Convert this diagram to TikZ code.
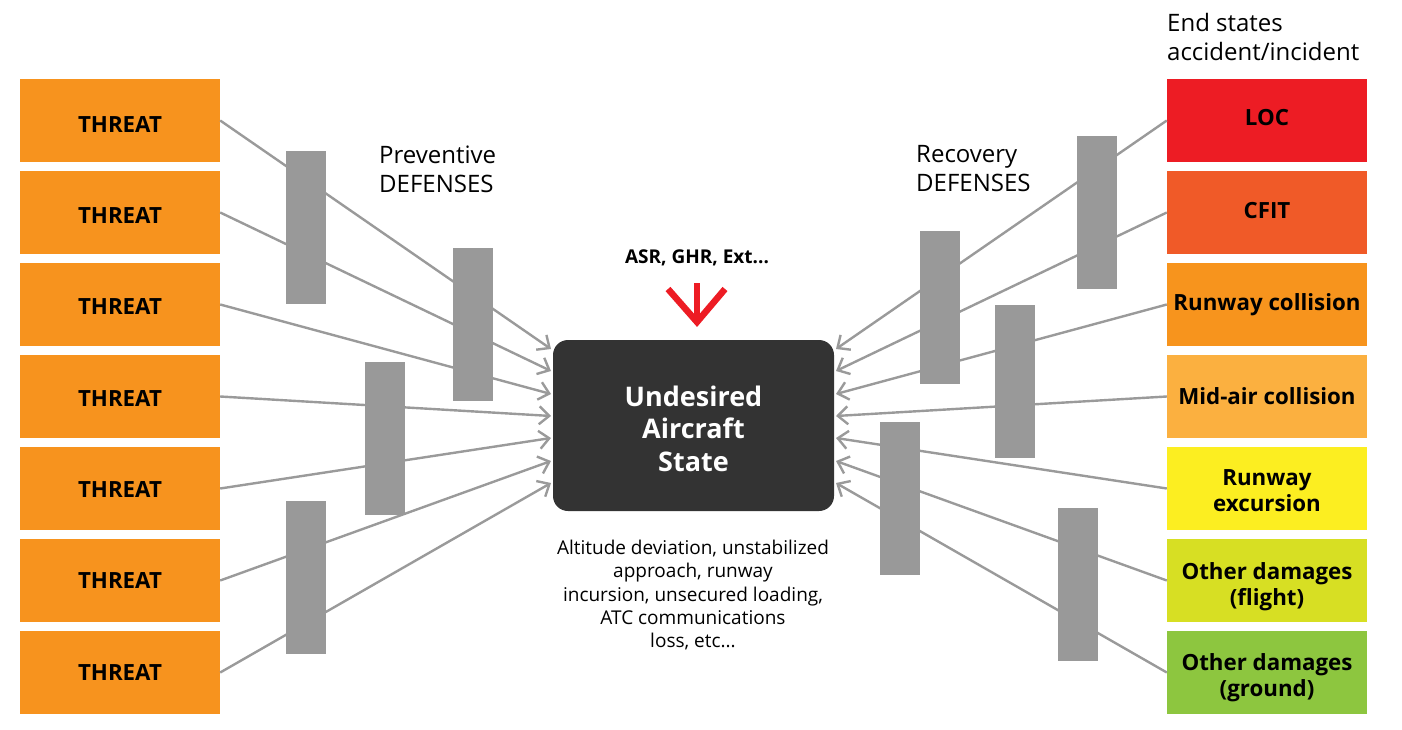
\documentclass[tikz,border=0pt]{standalone}
\usepackage{fontspec}
\setmainfont{Open Sans}
\usetikzlibrary{arrows.meta}
\definecolor{threatc}{HTML}{F7931E}
\definecolor{locc}{HTML}{ED1C24}
\definecolor{cfitc}{HTML}{F05A28}
\definecolor{rwcc}{HTML}{F7941D}
\definecolor{midc}{HTML}{FBB040}
\definecolor{rwec}{HTML}{FCEE21}
\definecolor{odfc}{HTML}{D7DF23}
\definecolor{odgc}{HTML}{8DC63F}
\definecolor{barg}{HTML}{999999}
\definecolor{lineg}{HTML}{9A9A9A}
\definecolor{darkc}{HTML}{333333}
\definecolor{redc}{HTML}{ED1C24}
\newcommand{\shiftlbl}[2]{\raisebox{#1pt}[\height][\depth]{#2}}
\tikzset{
  box/.style={rectangle, minimum width=200pt, minimum height=83pt, inner sep=0pt,
    font=\fontsize{22.3}{26}\selectfont\bfseries, align=center, text=black},
  bar/.style={rectangle, fill=barg, minimum width=40pt, minimum height=153pt, inner sep=0pt},
  conn/.style={draw=lineg, line width=2.4pt, -{Straight Barb[length=10pt,width=18pt]}},
  core/.style={rectangle, rounded corners=15pt, fill=darkc, minimum width=281pt,
    minimum height=171pt, text=white, font=\fontsize{27}{32.5}\selectfont\bfseries, align=center},
  heading/.style={inner sep=0pt, align=left, font=\fontsize{24}{29}\selectfont},
  redline/.style={draw=redc, line width=6.5pt, line join=miter}
}
\begin{document}
\begin{tikzpicture}[x=1pt,y=-1pt]
\useasboundingbox (0,0) rectangle (1402,730);
% threats
\foreach \i/\o in {1/-4.5,2/-3.5,3/-2.5,4/-2.5,5/-1,6/-0.5,7/-0.3} {
  \node[box, fill=threatc] (t\i) at (120,{28.5+92*\i}) {\shiftlbl{\o}{THREAT}};
}
% end states
\node[box, fill=locc] (e1) at (1267,120.5) {\shiftlbl{2.5}{LOC}};
\node[box, fill=cfitc] (e2) at (1267,212.5) {\shiftlbl{2}{CFIT}};
\node[box, fill=rwcc] (e3) at (1267,304.5) {Runway collision};
\node[box, fill=midc] (e4) at (1267,396.5) {Mid-air collision};
\node[box, fill=rwec] (e5) at (1267,488.5) {\rule{0pt}{20pt}Runway\\excursion};
\node[box, fill=odfc] (e6) at (1267,580.5) {\rule{0pt}{29pt}Other damages\\(flight)};
\node[box, fill=odgc] (e7) at (1267,672.5) {\rule{0pt}{27pt}Other damages\\(ground)};
% arrow tip points
\foreach \i/\y in {1/349,2/371,3/394,4/416,5/438,6/461,7/483} {
  \coordinate (tl\i) at (551,\y);
  \coordinate (tr\i) at (836,\y);
}
\foreach \i in {1,...,7} {
  \draw[conn] (t\i.east) -- (tl\i);
  \draw[conn] (e\i.west) -- (tr\i);
}
% defense bars
\node[bar] (ba) at (306,227.5) {};
\node[bar] (bb) at (472.5,324.5) {};
\node[bar] (bc) at (384.5,438.5) {};
\node[bar] (bd) at (306,577.5) {};
\node[bar] (be) at (1097,212.5) {};
\node[bar] (bf) at (940,307.5) {};
\node[bar] (bg) at (1015,381.5) {};
\node[bar] (bh) at (900,498.5) {};
\node[bar] (bi) at (1078,584.5) {};
% core
\node[core] (uas) at (693.5,425.5) {\rule{0pt}{27pt}Undesired\\Aircraft\\State};
% red arrow
\node[inner sep=0pt, font=\fontsize{19}{23}\selectfont\bfseries] (asr) at (697,258) {ASR, GHR, Ext...};
\coordinate (rs) at (697,283);
\coordinate (re) at (697,322);
\draw[redline] (rs) -- (re);
\draw[redline] ([shift={(-29,-33)}]re) -- (re) -- ([shift={(28,-33)}]re);
% headings
\node[heading, anchor=west] (prev) at (379,169) {Preventive\\DEFENSES};
\node[heading, anchor=west] (reco) at (916,169) {Recovery\\DEFENSES};
\node[heading, anchor=west] (ends) at (1167,37) {End states\\accident/incident};
% description
\node[inner sep=0pt, anchor=north, align=center, font=\fontsize{19}{23.3}\selectfont] (desc) at (693,540)
  {Altitude deviation, unstabilized\\approach, runway\\incursion, unsecured loading,\\ATC communications\\loss, etc...};
\end{tikzpicture}
\end{document}
